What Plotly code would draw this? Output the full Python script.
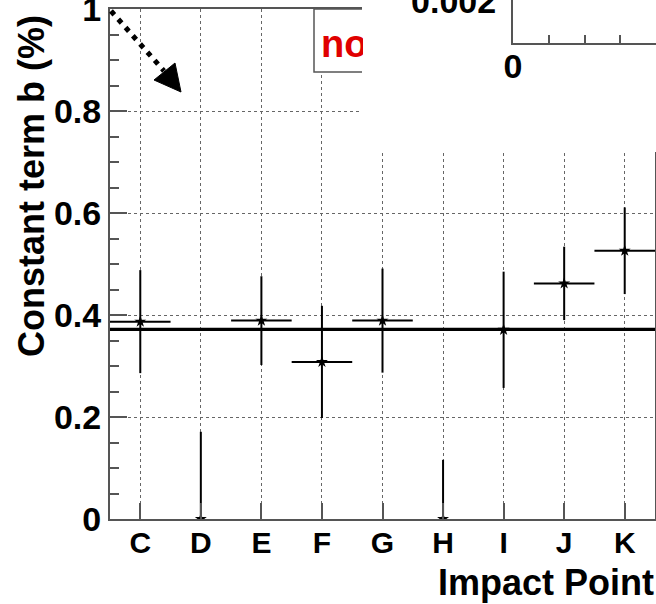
import plotly.graph_objects as go

# ---------------- data ----------------
categories = ["C", "D", "E", "F", "G", "H", "I", "J", "K"]
b_values = [0.387, 0.0, 0.389, 0.308, 0.389, 0.0, 0.371, 0.462, 0.526]
b_errors = [0.101, 0.171, 0.087, 0.110, 0.102, 0.116, 0.114, 0.072, 0.085]
bin_half_width = [0.5, 0.0, 0.5, 0.5, 0.5, 0.0, 0.5, 0.5, 0.5]
fit_constant = 0.372

y_tick_vals = [0, 0.2, 0.4, 0.6, 0.8, 1.0]
y_tick_text = ["0", "0.2", "0.4", "0.6", "0.8", "1"]
inset_y_vals = [0.002]
inset_y_text = ["0.002"]
inset_x_vals = [0, 1, 2, 3, 4]
inset_x_text = ["0", "", "", "", ""]
legend_text = "no"
x_title = "Impact Point"
y_title = "Constant term b (%)"

# ---------------- geometry ----------------
W, H = 656, 604
ML, MR, MT, MB = 110, 0, 0, 85
PW = W - ML - MR
PH = H - MT - MB


def px(x):
    return (x - ML) / PW


def py(y):
    return (PH - (y - MT)) / PH


FONT = "Liberation Sans, Arial, Helvetica, sans-serif"
AX = "#555555"
GRID = "#666666"

xpos = list(range(len(categories)))

fig = go.Figure()

# constant fit line
fig.add_trace(go.Scatter(
    x=[-0.5, len(categories) - 0.5], y=[fit_constant, fit_constant],
    mode="lines", line=dict(color="black", width=3.2),
    showlegend=False, hoverinfo="skip"))

# data points with errors
fig.add_trace(go.Scatter(
    x=xpos, y=b_values, mode="markers",
    marker=dict(symbol="star", size=9, color="black"),
    error_y=dict(type="data", array=b_errors, visible=True,
                 color="black", thickness=2, width=0),
    error_x=dict(type="data", array=bin_half_width, visible=True,
                 color="black", thickness=2, width=0),
    showlegend=False))

# cover subplot (white region) and inset subplot
fig.add_trace(go.Scatter(x=[], y=[], xaxis="x2", yaxis="y2", showlegend=False))
fig.add_trace(go.Scatter(x=[], y=[], xaxis="x3", yaxis="y3", showlegend=False))

fig.update_layout(
    width=W, height=H,
    margin=dict(l=ML, r=MR, t=MT, b=MB, autoexpand=False),
    paper_bgcolor="white", plot_bgcolor="white",
    font=dict(family=FONT, color="black"),
    xaxis=dict(
        domain=[0, px(655)], range=[-0.5, len(categories) - 0.5],
        tickmode="array", tickvals=xpos, ticktext=categories,
        ticks="inside", ticklen=16, tickwidth=2, tickcolor=AX,
        showline=True, linecolor=AX, linewidth=2, mirror=True,
        showgrid=True, gridcolor=GRID, griddash="dot", gridwidth=1,
        zeroline=False, anchor="y", automargin=False,
        tickfont=dict(size=30, family=FONT, weight="bold", color="black"),
        ticklabelstandoff=-4,
    ),
    yaxis=dict(
        domain=[0, py(9)], range=[0, 1],
        tickmode="array", tickvals=y_tick_vals, ticktext=y_tick_text,
        ticks="inside", ticklen=17, tickwidth=2, tickcolor=AX,
        minor=dict(dtick=0.05, ticks="inside", ticklen=9, tickwidth=2,
                   tickcolor=AX, showgrid=False),
        showline=True, linecolor=AX, linewidth=2, mirror=True,
        showgrid=True, gridcolor=GRID, griddash="dot", gridwidth=1,
        zeroline=False, anchor="x", ticklabeloverflow="allow", automargin=False,
        tickfont=dict(size=34, family=FONT, weight="bold", color="black"),
    ),
    xaxis2=dict(domain=[px(362), 1], range=[0, 1], anchor="y2",
                showline=False, showgrid=False, zeroline=False,
                showticklabels=False, ticks="", automargin=False),
    yaxis2=dict(domain=[py(152), 1], range=[0, 1], anchor="x2",
                showline=False, showgrid=False, zeroline=False,
                showticklabels=False, ticks="", automargin=False),
    xaxis3=dict(
        domain=[px(513), 1], range=[0, 4], anchor="y3",
        tickmode="array", tickvals=inset_x_vals, ticktext=inset_x_text,
        ticks="inside", ticklen=8, tickwidth=2, tickcolor=AX,
        showline=True, linecolor=AX, linewidth=2,
        showgrid=False, zeroline=False, ticklabeloverflow="allow",
        automargin=False,
        tickfont=dict(size=34, family=FONT, weight="bold", color="black"),
        ticklabelstandoff=-8,
    ),
    yaxis3=dict(
        domain=[py(43), 1], range=[0, 0.002 * 43 / 42], anchor="x3",
        tickmode="array", tickvals=inset_y_vals, ticktext=inset_y_text,
        ticks="", showline=True, linecolor=AX, linewidth=2,
        showgrid=True, gridcolor=GRID, griddash="dot", gridwidth=1,
        zeroline=False, ticklabeloverflow="allow", automargin=False,
        tickfont=dict(size=34, family=FONT, weight="bold", color="black"),
        ticklabelstandoff=8,
    ),
)

# legend box (cut on the right)
fig.add_shape(type="rect", xref="paper", yref="paper",
              x0=px(314), x1=px(362), y0=py(72), y1=py(9),
              fillcolor="white", line=dict(width=0), layer="above")
fig.add_shape(type="path", xref="paper", yref="paper",
              path=f"M {px(362)},{py(9)} L {px(314)},{py(9)} L {px(314)},{py(72)} L {px(362)},{py(72)}",
              line=dict(color=AX, width=1.5), layer="above")
fig.add_annotation(text=legend_text, xref="paper", yref="paper",
                   x=px(320), y=py(44), xanchor="left", yanchor="middle",
                   width=42, align="left", showarrow=False, borderpad=0,
                   font=dict(size=38, family=FONT, weight="bold", color="#e00000"))

# dotted arrow
fig.add_shape(type="line", xref="paper", yref="paper",
              x0=px(111), y0=py(11), x1=px(164), y1=py(71),
              line=dict(color="black", width=5, dash="5px,6px"), layer="above")
fig.add_shape(type="path", xref="paper", yref="paper",
              path=f"M {px(154)},{py(80)} L {px(175)},{py(63)} L {px(181)},{py(92)} Z",
              fillcolor="black", line=dict(color="black", width=1), layer="above")

# axis titles
fig.add_annotation(text=x_title, xref="paper", yref="paper",
                   x=px(656), y=py(582), xanchor="right", yanchor="middle",
                   showarrow=False,
                   font=dict(size=36, family=FONT, weight="bold", color="black"))
fig.add_annotation(text=y_title, xref="paper", yref="paper",
                   x=px(31), y=py(186), xanchor="center", yanchor="middle",
                   textangle=-90, showarrow=False,
                   font=dict(size=36, family=FONT, weight="bold", color="black"))

fig.write_html("out.html")
